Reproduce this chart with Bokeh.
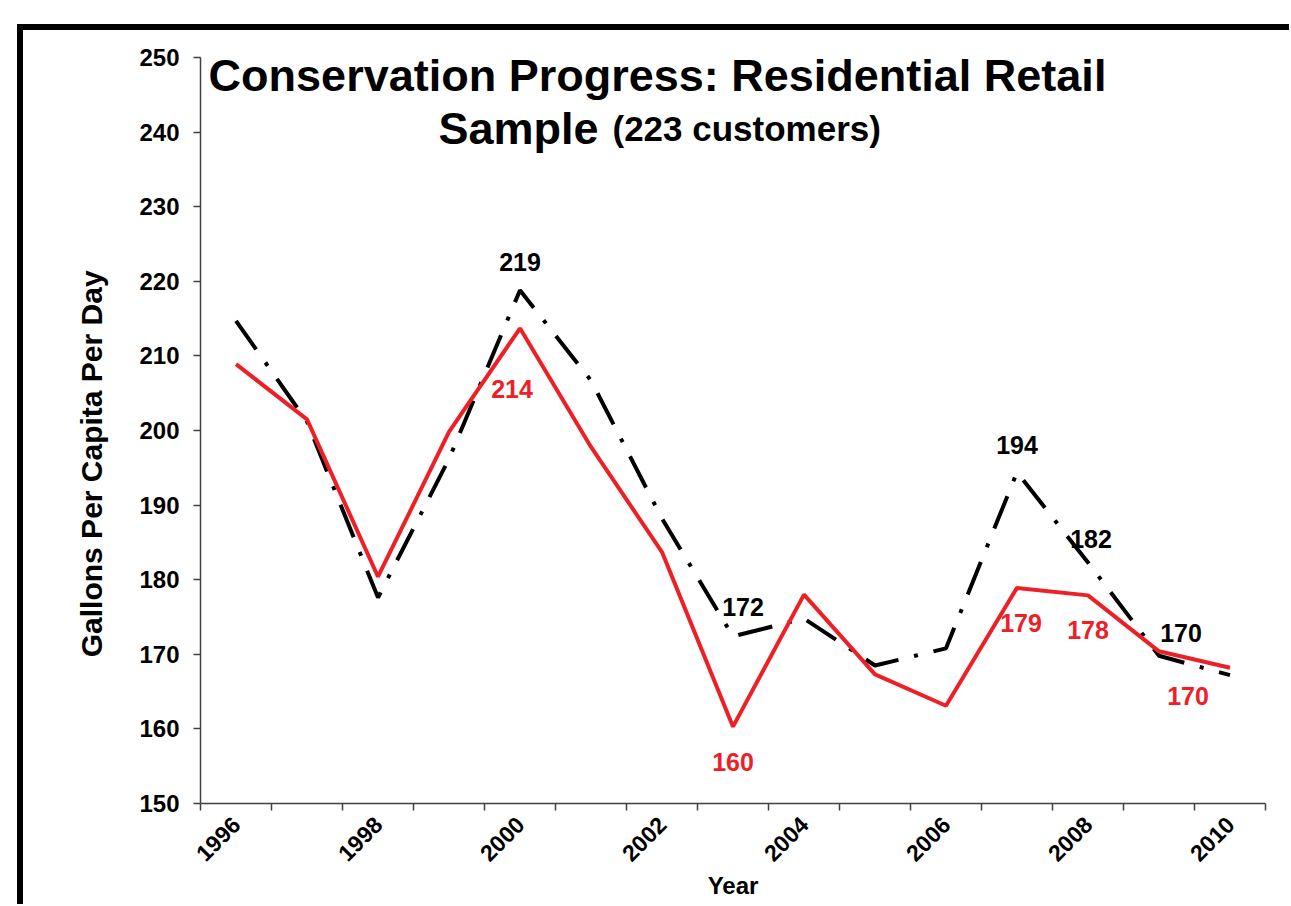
import numpy as np
from bokeh.plotting import figure
from bokeh.models import ColumnDataSource, FixedTicker, Label, Range1d
from bokeh.core.properties import value
from bokeh.embed import file_html
from bokeh.resources import INLINE

# ---------------- data ----------------
years = [1996, 1997, 1998, 1999, 2000, 2001, 2002, 2003, 2004, 2005, 2006, 2007, 2008, 2009, 2010]
sample_red = [208.9, 201.5, 180.4, 199.8, 213.7, 197.8, 183.7, 160.3, 178.0, 167.3, 163.1, 178.9, 177.9, 170.4, 168.2]
sample_black = [214.7, 201.2, 177.6, 196.2, 218.8, 206.7, 188.2, 172.4, 174.8, 168.5, 170.8, 194.4, 182.3, 169.8, 167.2]
black_label_years = [2000, 2003, 2007, 2008, 2009]
red_label_years = [2000, 2003, 2007, 2008, 2009]
x_tick_labels = [1996, 1998, 2000, 2002, 2004, 2006, 2008, 2010]
y_ticks = [150, 160, 170, 180, 190, 200, 210, 220, 230, 240, 250]

title_line1 = "Conservation Progress: Residential Retail"
title_line2a = "Sample"
title_line2b = "(223 customers)"
y_label = "Gallons Per Capita Per Day"
x_label = "Year"

# ---------------- styles ----------------
FONT = "Liberation Sans"
RED = "#EE2027"
black_offsets_x = [0, 10, 0, 3, 22]
black_offsets_y = [-28, -29, -27, -24, -23]
red_offsets_x = [-8, 0, 4, 0, 29]
red_offsets_y = [61, 35, 35, 35, 45]

MARGIN_X, MARGIN_Y, BORDER = 17, 24, 6
OFF_X, OFF_Y = MARGIN_X + BORDER, MARGIN_Y + BORDER   # page offset of the canvas
CW, CH = 1289 - OFF_X, 904 - OFF_Y                      # visible canvas size
p = figure(width=CW, height=CH, output_backend="svg", toolbar_location=None,
           x_range=Range1d(years[0] - 0.5, years[-1] + 0.5),
           y_range=Range1d(min(y_ticks), max(y_ticks)))
p.styles = {"box-sizing": "content-box",
            "margin-left": f"{MARGIN_X}px", "margin-top": f"{MARGIN_Y}px",
            "border-left": f"{BORDER}px solid black",
            "border-top": f"{BORDER}px solid black"}
# the drawing canvas is laid out at (size + border), so account for that
p.min_border_left = 200 - OFF_X
p.min_border_right = CW + BORDER - (1265 - OFF_X)
p.min_border_top = 57 - OFF_Y
p.min_border_bottom = CH + BORDER - (803 - OFF_Y)
p.outline_line_color = None
p.xgrid.visible = False
p.ygrid.visible = False
p.background_fill_color = "white"
p.border_fill_color = "white"

# lines
p.line(years, sample_black, line_color="black", line_width=4,
       line_dash="35 16 4 16", line_cap="butt")
p.line(years, sample_red, line_color=RED, line_width=4)

# data labels
bl = [sample_black[years.index(y)] for y in black_label_years]
rl = [sample_red[years.index(y)] for y in red_label_years]
src_b = ColumnDataSource(dict(x=black_label_years, y=bl, t=[f"{v:.0f}" for v in bl],
                              xo=black_offsets_x, yo=black_offsets_y))
src_r = ColumnDataSource(dict(x=red_label_years, y=rl, t=[f"{v:.0f}" for v in rl],
                              xo=red_offsets_x, yo=red_offsets_y))
p.text(x="x", y="y", text="t", x_offset="xo", y_offset="yo", source=src_b,
       text_font=value(FONT), text_font_style="bold", text_font_size="25px",
       text_color="black", text_align="center", text_baseline="middle")
p.text(x="x", y="y", text="t", x_offset="xo", y_offset="yo", source=src_r,
       text_font=value(FONT), text_font_style="bold", text_font_size="25px",
       text_color=RED, text_align="center", text_baseline="middle")

# axes
AX = "#404040"
xa = p.xaxis[0]
xa.ticker = FixedTicker(ticks=x_tick_labels,
                        minor_ticks=[y - 0.5 for y in years] + [years[-1] + 0.5])
xa.major_tick_out = 0
xa.major_tick_in = 0
xa.minor_tick_out = 7
xa.minor_tick_in = 0
xa.minor_tick_line_color = AX
xa.minor_tick_line_width = 1.5
xa.axis_line_color = AX
xa.axis_line_width = 1.5
xa.major_label_orientation = np.pi / 4
xa.major_label_text_font = FONT
xa.major_label_text_font_style = "bold"
xa.major_label_text_font_size = "23px"
xa.major_label_text_color = "black"
xa.major_label_standoff = 10
xa.axis_label = x_label
xa.axis_label_text_font = FONT
xa.axis_label_text_font_style = "bold"
xa.axis_label_text_font_size = "24px"
xa.axis_label_text_color = "black"
xa.axis_label_standoff = 0

ya = p.yaxis[0]
ya.ticker = FixedTicker(ticks=y_ticks, minor_ticks=[])
ya.major_tick_out = 7
ya.major_tick_in = 0
ya.major_tick_line_color = AX
ya.major_tick_line_width = 1.5
ya.axis_line_color = AX
ya.axis_line_width = 1.5
ya.major_label_text_font = FONT
ya.major_label_text_font_style = "bold"
ya.major_label_text_font_size = "24px"
ya.major_label_text_color = "black"
ya.major_label_standoff = 14
# trailing no-break spaces push the (centred) title down the axis like the original
ya.axis_label = y_label + "\u00a0" * 8
ya.axis_label_text_font = FONT
ya.axis_label_text_font_style = "bold"
ya.axis_label_text_font_size = "30px"
ya.axis_label_text_color = "black"
ya.axis_label_standoff = 28

# title (inside the plot area)
p.add_layout(Label(x=457, y=728, x_units="screen", y_units="screen",
                   text=title_line1, text_font=FONT, text_font_style="bold",
                   text_font_size="45px", text_align="center",
                   text_baseline="alphabetic", text_color="black"))
p.add_layout(Label(x=238, y=675, x_units="screen", y_units="screen",
                   text=title_line2a, text_font=FONT, text_font_style="bold",
                   text_font_size="45px", text_align="left",
                   text_baseline="alphabetic", text_color="black"))
p.add_layout(Label(x=412, y=675, x_units="screen", y_units="screen",
                   text=title_line2b, text_font=FONT, text_font_style="bold",
                   text_font_size="35px", text_align="left",
                   text_baseline="alphabetic", text_color="black"))

open("out.html", "w").write(file_html(p, INLINE))
